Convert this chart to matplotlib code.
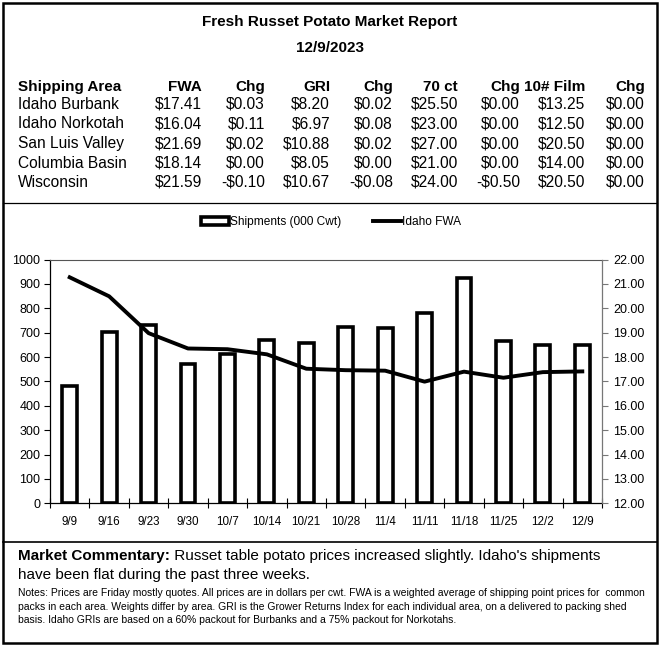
import matplotlib
matplotlib.use("Agg")
import matplotlib.pyplot as plt
from matplotlib.patches import Patch, Rectangle
from matplotlib.lines import Line2D
import matplotlib.ticker as mticker

plt.rcParams['font.family'] = ['Liberation Sans', 'DejaVu Sans']

W, H = 659, 645

title = "Fresh Russet Potato Market Report"
date = "12/9/2023"
headers = ["Shipping Area", "FWA", "Chg", "GRI", "Chg", "70 ct", "Chg", "10# Film", "Chg"]
areas = ["Idaho Burbank", "Idaho Norkotah", "San Luis Valley", "Columbia Basin", "Wisconsin"]
fwa_col = ["$17.41", "$16.04", "$21.69", "$18.14", "$21.59"]
fwa_chg = ["$0.03", "$0.11", "$0.02", "$0.00", "-$0.10"]
gri_col = ["$8.20", "$6.97", "$10.88", "$8.05", "$10.67"]
gri_chg = ["$0.02", "$0.08", "$0.02", "$0.00", "-$0.08"]
ct70_col = ["$25.50", "$23.00", "$27.00", "$21.00", "$24.00"]
ct70_chg = ["$0.00", "$0.00", "$0.00", "$0.00", "-$0.50"]
film_col = ["$13.25", "$12.50", "$20.50", "$14.00", "$20.50"]
film_chg = ["$0.00", "$0.00", "$0.00", "$0.00", "$0.00"]

weeks = ["9/9", "9/16", "9/23", "9/30", "10/7", "10/14", "10/21", "10/28",
         "11/4", "11/11", "11/18", "11/25", "12/2", "12/9"]
shipments = [483, 702, 732, 572, 612, 670, 658, 722, 720, 781, 925, 667, 650, 650]
idaho_fwa = [21.27, 20.49, 18.98, 18.35, 18.32, 18.11, 17.52, 17.46, 17.44,
             16.99, 17.40, 17.15, 17.38, 17.41]

commentary_bold = "Market Commentary:"
commentary_rest = " Russet table potato prices increased slightly. Idaho's shipments"
commentary_line2 = "have been flat during the past three weeks."
notes = ["Notes: Prices are Friday mostly quotes. All prices are in dollars per cwt. FWA is a weighted average of shipping point prices for  common",
         "packs in each area. Weights differ by area. GRI is the Grower Returns Index for each individual area, on a delivered to packing shed",
         "basis. Idaho GRIs are based on a 60% packout for Burbanks and a 75% packout for Norkotahs."]

fig = plt.figure(figsize=(W / 100, H / 100), dpi=100)
fig.patch.set_facecolor("white")

def fx(px):
    return px / W

def fy(py):
    return 1 - py / H

# Borders
fig.add_artist(Rectangle((fx(3), fy(643)), fx(654), (640) / H, transform=fig.transFigure,
                         fill=False, edgecolor="black", linewidth=1.8))
fig.add_artist(Line2D([fx(3), fx(657)], [fy(203), fy(203)], transform=fig.transFigure,
                      color="black", linewidth=0.9))
fig.add_artist(Line2D([fx(3), fx(657)], [fy(541.5), fy(541.5)], transform=fig.transFigure,
                      color="black", linewidth=1.2))

# Title
fig.text(fx(330), fy(26), title, ha="center", va="baseline", fontsize=11, fontweight="bold")
fig.text(fx(330), fy(52), date, ha="center", va="baseline", fontsize=11, fontweight="bold")

# Table
fs = 11.2
col_right = [None, 202, 265, 330, 393, 458, 520, 585, 645]
y_head = 91
row_y = [109, 128.5, 148, 167.5, 187]
fig.text(fx(18), fy(y_head), headers[0], ha="left", va="baseline", fontsize=11, fontweight="bold")
for h, xr in zip(headers[1:], col_right[1:]):
    fig.text(fx(xr), fy(y_head), h, ha="right", va="baseline", fontsize=11, fontweight="bold")
cols = [fwa_col, fwa_chg, gri_col, gri_chg, ct70_col, ct70_chg, film_col, film_chg]
for i, a in enumerate(areas):
    fig.text(fx(18), fy(row_y[i]), a, ha="left", va="baseline", fontsize=fs)
    for c, xr in zip(cols, col_right[1:]):
        fig.text(fx(xr), fy(row_y[i]), c[i], ha="right", va="baseline", fontsize=fs)

# Chart
ax = fig.add_axes([fx(50), fy(503.3), fx(602) - fx(50), (503.3 - 259.5) / H])
x = list(range(len(weeks)))
ax.bar(x, shipments, width=0.38, facecolor="white", edgecolor="black", linewidth=2.6, zorder=2)
ax.set_xlim(-0.5, len(weeks) - 0.5)
ax.set_ylim(0, 1000)
ax.yaxis.set_major_locator(mticker.MultipleLocator(100))
ax.set_xticks(x)
ax.set_xticklabels(weeks, fontsize=8.4)
ax.tick_params(axis="x", which="major", length=0, pad=9)
ax.set_xticks([i - 0.5 for i in range(len(weeks) + 1)], minor=True)
ax.tick_params(axis="x", which="minor", direction="inout", length=7, width=0.8)
ax.tick_params(axis="y", direction="out", length=4, width=0.8, labelsize=9, pad=3)
for s in ["left", "bottom"]:
    ax.spines[s].set_color("black")
    ax.spines[s].set_linewidth(0.9)
ax.spines["top"].set_color("#555555")
ax.spines["top"].set_linewidth(0.8)
ax.spines["right"].set_visible(False)

ax2 = ax.twinx()
ax2.plot(x, idaho_fwa, color="black", linewidth=2.8, zorder=3)
ax2.set_ylim(12, 22)
ax2.yaxis.set_major_locator(mticker.MultipleLocator(1))
ax2.yaxis.set_major_formatter(mticker.FormatStrFormatter("%.2f"))
ax2.tick_params(axis="y", direction="out", length=4, width=0.8, labelsize=9, color="#777777", pad=4)
for s in ["left", "bottom", "top"]:
    ax2.spines[s].set_visible(False)
ax2.spines["right"].set_color("#777777")
ax2.spines["right"].set_linewidth(0.9)

handles = [Patch(facecolor="white", edgecolor="black", linewidth=2.6),
           Line2D([0], [0], color="black", linewidth=2.8)]
fig.legend(handles, ["Shipments (000 Cwt)", "Idaho FWA"], loc="center",
           bbox_to_anchor=(fx(331), fy(222)), ncol=2, frameon=False, fontsize=8.6,
           handlelength=2.3, handleheight=0.6, handletextpad=0.1, columnspacing=2.7)

# Commentary
t1 = fig.text(fx(18), fy(560), commentary_bold, ha="left", va="baseline", fontsize=11, fontweight="bold")
fig.canvas.draw()
bb = t1.get_window_extent()
fig.text(bb.x1 / W, fy(560), commentary_rest, ha="left", va="baseline", fontsize=11)
fig.text(fx(18), fy(579.5), commentary_line2, ha="left", va="baseline", fontsize=11)
for i, line in enumerate(notes):
    fig.text(fx(18), fy(596 + i * 13.5), line, ha="left", va="baseline", fontsize=7.5)

fig.savefig("out.png", dpi=100, facecolor="white")
